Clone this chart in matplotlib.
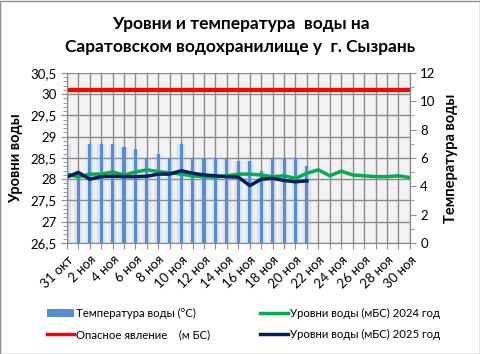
import numpy as np
import matplotlib.pyplot as plt
from matplotlib.patches import Rectangle

plt.rcParams['font.family'] = ['Lato', 'DejaVu Sans']

days = ["31 окт"] + [f"{d} ноя" for d in range(1, 31)]

temp_2025 = [7.0, 5.0, 7.0, 7.0, 7.0, 6.8, 6.6, 6.0, 6.3, 6.0, 7.0, 6.0,
             6.0, 6.0, 6.0, 5.8, 5.8, 5.1, 6.0, 6.0, 6.0, 5.4]
level_2024 = [28.12, 28.05, 28.12, 28.12, 28.17, 28.10, 28.17, 28.22, 28.18, 28.15, 28.12,
              28.08, 28.06, 28.05, 28.08, 28.12, 28.12, 28.10, 28.06, 28.08, 28.02, 28.14,
              28.22, 28.08, 28.19, 28.10, 28.08, 28.06, 28.06, 28.08, 28.04]
level_2025 = [28.05, 28.16, 28.00, 28.06, 28.07, 28.06, 28.06, 28.07, 28.12, 28.12, 28.20,
              28.14, 28.10, 28.08, 28.06, 28.05, 27.85, 28.00, 28.02, 27.97, 27.94, 27.96]
danger = [30.1] * len(days)

x = np.arange(len(days))

fig = plt.figure(figsize=(4.81, 3.54), dpi=100)
ax = fig.add_axes([0.139, 0.3136, 0.713, 0.4804])
ax2 = ax.twinx()

# temperature bars on the bottom axes, shown on the right side
ax.set_facecolor('#f2f2f2')
xb = np.arange(len(temp_2025))
for w, a in [(0.85, 0.07), (0.65, 0.09), (0.5, 0.13)]:
    ax.bar(xb, temp_2025, width=w, color='#8fb4e3', alpha=a, zorder=2, linewidth=0)
bars = ax.bar(xb, temp_2025, width=0.27, color='#558ed5', zorder=3, linewidth=0,
              label='Температура воды (°C)')
ax.set_ylim(0, 12)
ax.set_yticks(np.arange(0, 13, 2))
ax.set_yticks(np.arange(1, 12, 2), minor=True)
ax.yaxis.tick_right()
ax.yaxis.set_label_position('right')
ax.set_ylabel('Температура воды', fontsize=10.5, fontweight='bold', labelpad=6)

# levels on the top axes, shown on the left side
ax2.yaxis.tick_left()
ax2.yaxis.set_label_position('left')
ax2.set_ylim(26.5, 30.5)
ax2.set_yticks(np.arange(26.5, 30.51, 0.5))
ax2.set_yticks(np.arange(26.5, 30.51, 0.1), minor=True)
ax2.set_yticklabels([f"{v:g}".replace('.', ',') for v in np.arange(26.5, 30.51, 0.5)])
ax2.set_ylabel('Уровни воды', fontsize=10.5, fontweight='bold', labelpad=5)

l1, = ax2.plot(x, danger, color='#ff0000', lw=3, label='Опасное явление    (м БС)')
l2, = ax2.plot(x, level_2024, color='#00b050', lw=2.5, label='Уровни воды (мБС) 2024 год')
l3, = ax2.plot(xb, level_2025, color='#002060', lw=2.5, label='Уровни воды (мБС) 2025 год')

# grid: horizontal lines follow the level ticks
lo, hi = ax2.get_ylim()
for lv in ax2.get_yticks():
    ax.axhline((lv - lo) / (hi - lo) * 12, color='#8c8c8c', lw=1, zorder=1)
ax.set_xticks(x)
ax.grid(axis='x', color='#8c8c8c', lw=1, zorder=1)
ax.set_axisbelow(True)
ax.set_xlim(0, len(days) - 1)
ax.set_xticklabels([d if i % 2 == 0 else '' for i, d in enumerate(days)],
                   rotation=45, ha='right', rotation_mode='anchor', fontsize=9.5)

for a in (ax, ax2):
    for s in a.spines.values():
        s.set_color('#8c8c8c')
    a.tick_params(which='both', colors='#8c8c8c', labelcolor='black', labelsize=9.5, length=4)
    a.tick_params(which='minor', length=3)
ax2.spines['top'].set_visible(False)
ax.spines['top'].set_visible(False)

fig.text(0.5, 0.932, 'Уровни и температура  воды на', ha='center', va='center',
         fontsize=12.5, fontweight='bold')
fig.text(0.5, 0.868, 'Саратовском водохранилище у  г. Сызрань', ha='center', va='center',
         fontsize=12.5, fontweight='bold')

l1_leg = plt.Line2D([], [], color='#ff0000', lw=2.5)
l2_leg = plt.Line2D([], [], color='#00b050', lw=2.5)
l3_leg = plt.Line2D([], [], color='#002060', lw=2.5)
fig.legend([bars, l1_leg, l2_leg, l3_leg],
           [bars.get_label(), l1.get_label(), l2.get_label(), l3.get_label()],
           ncol=2, loc='center', bbox_to_anchor=(0.506, 0.085), frameon=False, fontsize=8.2,
           handlelength=2.4, columnspacing=4.4, labelspacing=0.95, handletextpad=0.2)

fig.patches.append(Rectangle((0.001, 0.001), 0.997, 0.997, transform=fig.transFigure,
                             fill=False, edgecolor='#8c8c8c', lw=1))

fig.savefig('out.png', dpi=100)
